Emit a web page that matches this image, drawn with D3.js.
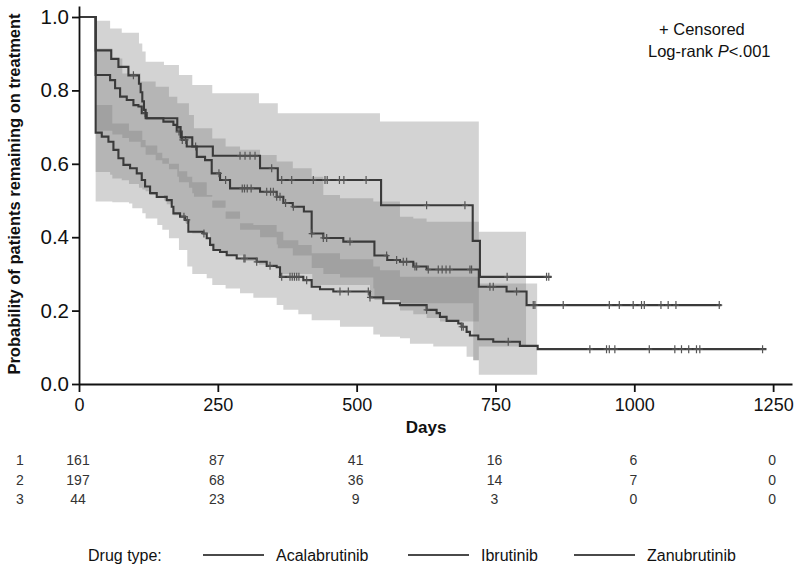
<!DOCTYPE html>
<html>
<head>
<meta charset="utf-8">
<script src="https://cdn.jsdelivr.net/npm/d3@7"></script>
<style>
body { margin: 0; background: #fff; }
svg { font-family: "Liberation Sans", Arial, sans-serif; }
</style>
</head>
<body>
<div class="container"></div>
<script>
// Kaplan-Meier steps: [day of drop], [survival after drop]
const acalaDays = [0, 30, 56, 65, 74, 86, 98, 107, 113, 122, 152, 170, 176, 185, 194, 212, 227, 239, 254, 272, 326, 356, 368, 385, 405, 419, 440, 476, 532, 555, 578, 602, 626, 720, 770, 806, 1157];
const acalaSurv = [1, 0.842, 0.828, 0.806, 0.783, 0.774, 0.76, 0.756, 0.738, 0.724, 0.715, 0.706, 0.688, 0.665, 0.647, 0.619, 0.61, 0.574, 0.556, 0.533, 0.524, 0.51, 0.493, 0.483, 0.47, 0.41, 0.398, 0.388, 0.35, 0.338, 0.333, 0.32, 0.312, 0.265, 0.252, 0.215, 0.215];
const acalaCensored = [119, 180, 186, 192, 210, 252, 264, 294, 298, 303, 310, 338, 345, 350, 356, 362, 372, 386, 419, 440, 446, 488, 554, 572, 584, 590, 605, 608, 629, 647, 654, 661, 668, 704, 707, 740, 746, 788, 818, 821, 872, 955, 973, 998, 1013, 1018, 1048, 1061, 1075, 1153];

const ibruDays = [0, 30, 41, 53, 62, 71, 80, 92, 104, 113, 119, 128, 140, 158, 167, 170, 182, 191, 197, 224, 230, 236, 242, 254, 266, 284, 320, 338, 356, 362, 404, 419, 434, 458, 524, 548, 578, 626, 644, 650, 662, 683, 689, 698, 704, 719, 746, 794, 826, 1238];
const ibruSurv = [1, 0.685, 0.674, 0.66, 0.638, 0.615, 0.597, 0.588, 0.574, 0.556, 0.538, 0.52, 0.51, 0.501, 0.483, 0.465, 0.456, 0.447, 0.415, 0.41, 0.397, 0.379, 0.365, 0.36, 0.351, 0.342, 0.333, 0.322, 0.318, 0.292, 0.283, 0.265, 0.258, 0.252, 0.236, 0.22, 0.215, 0.202, 0.193, 0.183, 0.172, 0.165, 0.156, 0.142, 0.132, 0.122, 0.115, 0.104, 0.095, 0.095];
const ibruCensored = [189, 195, 225, 297, 299, 320, 344, 365, 380, 384, 388, 392, 396, 410, 470, 485, 521, 524, 626, 689, 692, 773, 920, 950, 955, 965, 1027, 1073, 1085, 1098, 1112, 1118, 1231];

const zanuDays = [0, 30, 58, 71, 89, 108, 111, 114, 117, 120, 177, 183, 204, 241, 326, 358, 544, 709, 722, 851];
const zanuSurv = [1, 0.909, 0.886, 0.864, 0.841, 0.818, 0.795, 0.77, 0.747, 0.724, 0.70, 0.672, 0.647, 0.622, 0.588, 0.556, 0.487, 0.39, 0.292, 0.292];
const zanuCensored = [98, 290, 299, 308, 317, 347, 365, 383, 422, 443, 447, 469, 477, 517, 626, 695, 771, 842, 846];

// confidence bands (step after), last entry closes the band
const acalaBandDays = [30, 60, 78, 90, 111, 120, 138, 150, 162, 177, 180, 198, 204, 207, 240, 264, 290, 326, 356, 358, 385, 419, 440, 470, 530, 532, 578, 602, 626, 650, 720, 805];
const acalaBandLow  = [0.69, 0.68, 0.67, 0.66, 0.645, 0.625, 0.61, 0.60, 0.585, 0.565, 0.55, 0.535, 0.52, 0.51, 0.48, 0.45, 0.42, 0.40, 0.38, 0.37, 0.35, 0.316, 0.30, 0.29, 0.26, 0.229, 0.20, 0.19, 0.18, 0.17, 0.102, 0.102];
const acalaBandHigh = [0.914, 0.887, 0.846, 0.846, 0.824, 0.824, 0.81, 0.81, 0.783, 0.765, 0.765, 0.733, 0.733, 0.697, 0.669, 0.647, 0.638, 0.624, 0.606, 0.606, 0.588, 0.565, 0.515, 0.506, 0.497, 0.497, 0.456, 0.451, 0.442, 0.442, 0.415, 0.415];

const ibruBandDays = [30, 60, 90, 96, 114, 120, 141, 150, 162, 180, 195, 204, 230, 240, 264, 290, 314, 356, 368, 395, 419, 470, 530, 542, 578, 596, 638, 698, 710, 720, 825];
const ibruBandLow  = [0.497, 0.495, 0.492, 0.479, 0.465, 0.451, 0.433, 0.42, 0.397, 0.365, 0.32, 0.30, 0.288, 0.27, 0.26, 0.247, 0.235, 0.215, 0.202, 0.19, 0.174, 0.156, 0.135, 0.129, 0.125, 0.11, 0.102, 0.074, 0.065, 0.025, 0.025];
const ibruBandHigh = [0.76, 0.71, 0.69, 0.69, 0.665, 0.65, 0.63, 0.615, 0.60, 0.58, 0.565, 0.55, 0.515, 0.50, 0.47, 0.438, 0.433, 0.415, 0.392, 0.379, 0.356, 0.34, 0.32, 0.31, 0.292, 0.292, 0.292, 0.292, 0.292, 0.274, 0.274];

const zanuBandDays = [30, 56, 60, 77, 90, 108, 114, 120, 128, 153, 158, 170, 180, 191, 200, 204, 236, 240, 266, 300, 324, 358, 362, 420, 524, 542, 548, 578, 710, 720];
const zanuBandLow  = [0.578, 0.57, 0.56, 0.555, 0.545, 0.535, 0.53, 0.525, 0.515, 0.50, 0.49, 0.46, 0.455, 0.44, 0.415, 0.41, 0.375, 0.365, 0.35, 0.335, 0.325, 0.318, 0.30, 0.27, 0.24, 0.235, 0.229, 0.22, 0.065, 0.065];
const zanuBandHigh = [0.99, 0.969, 0.969, 0.957, 0.957, 0.928, 0.906, 0.878, 0.878, 0.869, 0.869, 0.869, 0.842, 0.842, 0.842, 0.815, 0.815, 0.792, 0.792, 0.792, 0.765, 0.738, 0.738, 0.738, 0.738, 0.715, 0.715, 0.715, 0.715, 0.715];

// number at risk table
const riskDays  = [0, 250, 500, 750, 1000, 1250];
const riskAcala = [161, 87, 41, 16, 6, 0];
const riskIbru  = [197, 68, 36, 14, 7, 0];
const riskZanu  = [44, 23, 9, 3, 0, 0];

const xTicks = [0, 250, 500, 750, 1000, 1250];
const yTicks = [0, 0.2, 0.4, 0.6, 0.8, 1.0];
const drugNames = ["Acalabrutinib", "Ibrutinib", "Zanubrutinib"];

const width = 800;
const height = 579;

const svg = d3.select('.container').append('svg').attr('width', width).attr('height', height);

const x = d3.scaleLinear().domain([0, 1284]).range([79, 792]);
const y = d3.scaleLinear().domain([0, 1.03]).range([384, 6]);

const groups = [
    { days: acalaDays, surv: acalaSurv, cens: acalaCensored, bDays: acalaBandDays, bLow: acalaBandLow, bHigh: acalaBandHigh },
    { days: ibruDays, surv: ibruSurv, cens: ibruCensored, bDays: ibruBandDays, bLow: ibruBandLow, bHigh: ibruBandHigh },
    { days: zanuDays, surv: zanuSurv, cens: zanuCensored, bDays: zanuBandDays, bLow: zanuBandLow, bHigh: zanuBandHigh }
];

const band = d3.area().curve(d3.curveStepAfter).x(d => x(d[0])).y0(d => y(d[1])).y1(d => y(d[2]));
const line = d3.line().curve(d3.curveStepAfter).x(d => x(d[0])).y(d => y(d[1]));

const bands = svg.append('g').attr('class', 'bands');
groups.forEach(g => {
    const pts = g.bDays.map((d, i) => [d, g.bLow[i], g.bHigh[i]]);
    bands.append('path').attr('d', band(pts)).attr('fill', '#7a7a7a').attr('fill-opacity', 0.33);
});

const survAt = (g, t) => {
    let s = 1;
    for (let i = 0; i < g.days.length; i++) {
        if (g.days[i] <= t) s = g.surv[i];
    }
    return s;
};

const curves = svg.append('g').attr('class', 'curves');
groups.forEach(g => {
    const pts = g.days.map((d, i) => [d, g.surv[i]]);
    curves.append('path').attr('d', line(pts)).attr('fill', 'none')
        .attr('stroke', '#3a3a3a').attr('stroke-width', 2.1);
    curves.selectAll(null).data(g.cens).enter().append('path')
        .attr('d', d => `M${x(d) - 3},${y(survAt(g, d))}h6M${x(d)},${y(survAt(g, d)) - 4}v8`)
        .attr('stroke', '#555').attr('stroke-width', 1.2).attr('fill', 'none');
});

// axes
const xAxis = svg.append('g').attr('transform', 'translate(0,384)')
    .call(d3.axisBottom(x).tickValues(xTicks).tickFormat(d3.format('d')).tickSize(8).tickSizeOuter(0).tickPadding(6));
const yAxis = svg.append('g').attr('transform', 'translate(79,0)')
    .call(d3.axisLeft(y).tickValues(yTicks).tickFormat(d3.format('.1f')).tickSize(7).tickSizeOuter(0).tickPadding(3));

[xAxis, yAxis].forEach(a => {
    a.selectAll('path, line').attr('stroke', '#111').attr('stroke-width', 1.8);
    a.selectAll('text').attr('fill', '#111').style('font-family', '"Liberation Sans", Arial, sans-serif');
});
xAxis.selectAll('text').style('font-size', '18px');
yAxis.selectAll('text').style('font-size', '20.5px');

svg.append('text').attr('x', x(625)).attr('y', 433).attr('text-anchor', 'middle')
    .style('font-size', '17px').style('font-weight', 'bold').attr('fill', '#111').text('Days');

svg.append('text').attr('transform', 'translate(20,194) rotate(-90)').attr('text-anchor', 'middle')
    .style('font-size', '16.5px').style('font-weight', 'bold').attr('fill', '#111')
    .text('Probability of patients remaining on treatment');

// annotation
svg.append('text').attr('x', 659).attr('y', 35).style('font-size', '16.5px').attr('fill', '#111').text('+ Censored');
const lr = svg.append('text').attr('x', 648).attr('y', 57).style('font-size', '16.5px').attr('fill', '#111');
lr.append('tspan').text('Log-rank ');
lr.append('tspan').style('font-style', 'italic').text('P');
lr.append('tspan').text('<.001');

// number at risk
const riskRows = [riskAcala, riskIbru, riskZanu];
const rowY = [465, 484.5, 503.5];
riskRows.forEach((row, r) => {
    svg.append('text').attr('x', 20).attr('y', rowY[r]).attr('text-anchor', 'middle')
        .style('font-size', '14px').attr('fill', '#333').text(r + 1);
    svg.selectAll(null).data(row).enter().append('text')
        .attr('x', (d, i) => x(riskDays[i]) - 1).attr('y', rowY[r]).attr('text-anchor', 'middle')
        .style('font-size', '14px').attr('fill', '#333').text(d => d);
});

// legend
const legend = svg.append('g').attr('class', 'legend');
legend.append('text').attr('x', 88).attr('y', 561).style('font-size', '16px').attr('fill', '#111').text('Drug type:');
const legX = [203, 408, 574];
drugNames.forEach((n, i) => {
    legend.append('line').attr('x1', legX[i]).attr('x2', legX[i] + 61).attr('y1', 555).attr('y2', 555)
        .attr('stroke', '#4a4a4a').attr('stroke-width', 2);
    legend.append('text').attr('x', legX[i] + 73).attr('y', 561).style('font-size', '16px').attr('fill', '#111').text(n);
});
</script>
</body>
</html>
